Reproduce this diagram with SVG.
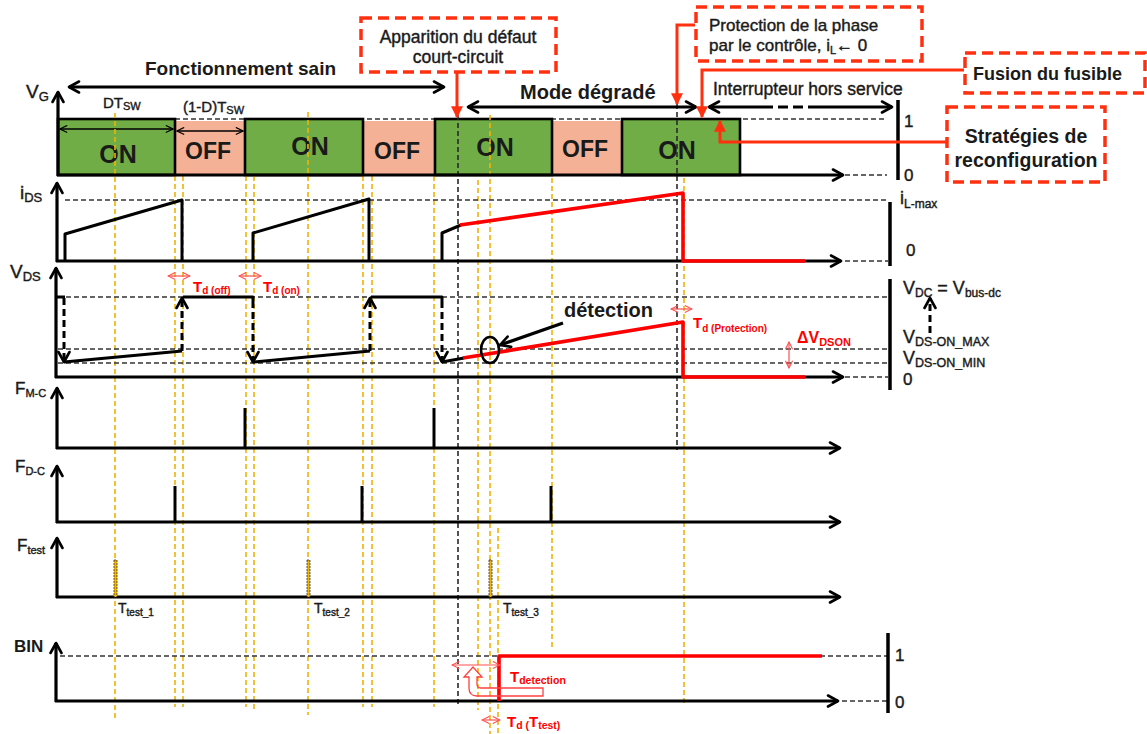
<svg xmlns="http://www.w3.org/2000/svg" width="1147" height="734" viewBox="0 0 1147 734">
<defs>
<style>
text{font-family:"Liberation Sans",Arial,sans-serif;fill:#1a1a1a}
.b{font-weight:bold}
.md{stroke:#1a1a1a;stroke-width:0.4}
.ax{stroke:#000;stroke-width:3.2;fill:none;marker-end:url(#ah)}
.wf{stroke:#000;stroke-width:3;fill:none;stroke-linejoin:round}
.dw{stroke:#000;stroke-width:3;fill:none;stroke-dasharray:7 4;marker-end:url(#ah)}
.rd{stroke:#FF0000;stroke-width:3.6;fill:none;stroke-linejoin:round}
.yl{stroke:#F2B200;stroke-width:1.6;stroke-dasharray:5 3;fill:none}
.bd{stroke:#2a2a2a;stroke-width:1.6;stroke-dasharray:5 3;fill:none}
.gd{stroke:#333;stroke-width:1.3;stroke-dasharray:5 3;fill:none}
.bar{stroke:#000;stroke-width:3.5}
.on{fill:#70AD47;stroke:#000;stroke-width:2.6}
.off{fill:#F4B196}
.cb{fill:#fff;stroke:#FF3010;stroke-width:3.5;stroke-dasharray:11 6}
.cl{stroke:#FF3010;stroke-width:3;fill:none;marker-end:url(#ahf)}
.tr{stroke:#FF5050;stroke-width:1.2;fill:none;marker-start:url(#ahr);marker-end:url(#ahr)}
.tk{stroke:#000;stroke-width:1.3;fill:none;marker-start:url(#aht);marker-end:url(#aht)}
.dbl{stroke:#000;stroke-width:3;fill:none;marker-start:url(#ah);marker-end:url(#ah)}
.rt{fill:#FF0000}
.spk{stroke:#000;stroke-width:3}
.tb{fill:#F2B200;stroke:#333;stroke-width:0.8;stroke-dasharray:2 1}
</style>
<marker id="ah" viewBox="0 0 14 14" refX="12" refY="7" markerWidth="14" markerHeight="14" markerUnits="userSpaceOnUse" orient="auto-start-reverse"><path d="M2,1.5 L12,7 L2,12.5" fill="none" stroke="#000" stroke-width="2.6" stroke-linecap="round" stroke-linejoin="round"/></marker>
<marker id="aht" viewBox="0 0 10 10" refX="9" refY="5" markerWidth="9" markerHeight="9" markerUnits="userSpaceOnUse" orient="auto-start-reverse"><path d="M1,1 L9,5 L1,9" fill="none" stroke="#000" stroke-width="1.3"/></marker>
<marker id="ahr" viewBox="0 0 10 10" refX="9" refY="5" markerWidth="9" markerHeight="9" markerUnits="userSpaceOnUse" orient="auto-start-reverse"><path d="M1,1 L9,5 L1,9" fill="none" stroke="#FF5050" stroke-width="1.2"/></marker>
<marker id="ahf" viewBox="0 0 10 10" refX="9" refY="5" markerWidth="12" markerHeight="12" markerUnits="userSpaceOnUse" orient="auto"><path d="M0,0 L10,5 L0,10 Z" fill="#FF3010"/></marker>
</defs>
<rect width="1147" height="734" fill="#fff"/>

<g id="vg-row">
<line class="gd" x1="175" y1="119" x2="887" y2="119"/>
<rect class="off" x="175" y="121" width="70" height="54"/>
<rect class="off" x="363" y="121" width="72" height="54"/>
<rect class="off" x="552" y="121" width="70" height="54"/>
<rect class="on" x="58" y="119" width="117" height="56"/>
<rect class="on" x="245" y="119" width="118" height="56"/>
<rect class="on" x="435" y="119" width="117" height="56"/>
<rect class="on" x="622" y="119" width="118" height="56"/>
<text class="b" x="118" y="163" font-size="25" text-anchor="middle">ON</text>
<text class="b" x="310" y="155" font-size="25" text-anchor="middle">ON</text>
<text class="b" x="495" y="156" font-size="25" text-anchor="middle">ON</text>
<text class="b" x="677" y="159" font-size="25" text-anchor="middle">ON</text>
<text class="b" x="208" y="159" font-size="23" text-anchor="middle">OFF</text>
<text class="b" x="397" y="159" font-size="23" text-anchor="middle">OFF</text>
<text class="b" x="585" y="157" font-size="23" text-anchor="middle">OFF</text>
<line class="tk" x1="60" y1="129" x2="173" y2="129"/>
<line class="tk" x1="177" y1="131" x2="243" y2="131"/>
<text class="md" x="103" y="108" font-size="15">DT<tspan font-size="11" dy="2">SW</tspan></text>
<text class="md" x="183" y="112" font-size="15">(1-D)T<tspan font-size="11" dy="2">SW</tspan></text>
<text class="md" x="26" y="98" font-size="19">V<tspan font-size="13" dy="3">G</tspan></text>
</g>

<g id="guides">
<line class="yl" x1="115" y1="113" x2="115" y2="718"/>
<line class="yl" x1="175" y1="176" x2="175" y2="707"/>
<line class="yl" x1="183" y1="176" x2="183" y2="707"/>
<line class="yl" x1="246" y1="176" x2="246" y2="707"/>
<line class="yl" x1="254" y1="176" x2="254" y2="710"/>
<line class="yl" x1="308" y1="112" x2="308" y2="715"/>
<line class="yl" x1="363" y1="176" x2="363" y2="707"/>
<line class="yl" x1="372" y1="176" x2="372" y2="707"/>
<line class="yl" x1="434" y1="176" x2="434" y2="707"/>
<line class="yl" x1="478" y1="180" x2="478" y2="710"/>
<line class="yl" x1="490" y1="115" x2="490" y2="734"/>
<line class="yl" x1="498" y1="528" x2="498" y2="734"/>
<line class="yl" x1="552" y1="178" x2="552" y2="650"/>
<line class="yl" x1="684" y1="178" x2="684" y2="703"/>
<line class="bd" x1="458" y1="115" x2="458" y2="706"/>
<line class="bd" x1="677" y1="104" x2="677" y2="450"/>
<line class="gd" x1="845" y1="175" x2="887" y2="175"/>
<line class="gd" x1="65" y1="200" x2="888" y2="200"/>
<line class="gd" x1="845" y1="261" x2="888" y2="261"/>
<line class="gd" x1="58" y1="297" x2="888" y2="297"/>
<line class="gd" x1="58" y1="349" x2="888" y2="349"/>
<line class="gd" x1="58" y1="363" x2="888" y2="363"/>
<line class="gd" x1="845" y1="377" x2="888" y2="377"/>
<line class="gd" x1="60" y1="656" x2="887" y2="656"/>
<line class="gd" x1="842" y1="701" x2="887" y2="701"/>
</g>

<g id="vg-axes">
<line class="ax" x1="58" y1="176" x2="58" y2="92"/>
<line class="ax" x1="57" y1="175" x2="843" y2="175"/>
<line class="bar" x1="898" y1="100" x2="898" y2="180"/>
<text class="md" x="904" y="127" font-size="17">1</text>
<text class="md" x="904" y="181" font-size="17">0</text>
</g>

<g id="ids-row">
<line class="ax" x1="57" y1="262" x2="57" y2="183"/>
<line class="ax" x1="56" y1="261" x2="841" y2="261"/>
<path class="wf" d="M65,261 V234 L182,200 V261"/>
<path class="wf" d="M253,261 V233 L369,199 V261"/>
<path class="wf" d="M442,261 V233 L461,225"/>
<path class="rd" d="M460,225 L683,193 V261 H805"/>
<line class="bar" x1="890" y1="202" x2="890" y2="266"/>
<text class="md" x="20" y="199" font-size="19">i<tspan font-size="13" dy="3">DS</tspan></text>
<text class="md" x="900" y="204" font-size="18">i<tspan font-size="12" dy="4">L-max</tspan></text>
<text class="md" x="906" y="256" font-size="17">0</text>
</g>

<g id="vds-row">
<line class="ax" x1="56" y1="378" x2="56" y2="268"/>
<line class="ax" x1="55" y1="377" x2="843" y2="377"/>
<path class="wf" d="M56,297 H65"/>
<line class="dw" x1="64" y1="298" x2="64" y2="362"/>
<path class="wf" d="M64,362 L182,351"/>
<line class="dw" x1="182" y1="351" x2="182" y2="298"/>
<path class="wf" d="M183,297 H253 V301"/>
<line class="dw" x1="253" y1="301" x2="253" y2="362"/>
<path class="wf" d="M253,362 L370,351"/>
<line class="dw" x1="370" y1="351" x2="370" y2="298"/>
<path class="wf" d="M371,297 H442 V301"/>
<line class="dw" x1="442" y1="301" x2="442" y2="362"/>
<path class="wf" d="M442,362 L464,358"/>
<path class="rd" d="M463,358 L683,322 V377 H805"/>
<ellipse cx="490" cy="350" rx="9" ry="13" fill="none" stroke="#000" stroke-width="2.6"/>
<line class="ax" x1="563" y1="323" x2="500" y2="345"/>
<text class="b" x="564" y="317" font-size="20">détection</text>
<line class="tr" x1="168" y1="276" x2="190" y2="276"/>
<line class="tr" x1="239" y1="276" x2="261" y2="276"/>
<text class="b rt" x="193" y="292" font-size="15">T<tspan font-size="10" dy="2">d (off)</tspan></text>
<text class="b rt" x="263" y="292" font-size="15">T<tspan font-size="10" dy="2">d (on)</tspan></text>
<line class="tr" x1="671" y1="309" x2="692" y2="309"/>
<text class="b rt" x="693" y="328" font-size="15">T<tspan font-size="10" dy="4">d (Protection)</tspan></text>
<line class="tr" x1="789" y1="342" x2="789" y2="368"/>
<text class="b rt" x="797" y="343" font-size="16">ΔV<tspan font-size="11" dy="3">DSON</tspan></text>
<line class="bar" x1="890" y1="279" x2="890" y2="390"/>
<line class="dw" x1="930" y1="333" x2="930" y2="298"/>
<text class="md" x="10" y="278" font-size="19">V<tspan font-size="13" dy="3">DS</tspan></text>
<text class="md" x="903" y="294" font-size="18">V<tspan font-size="12" dy="3">DC</tspan><tspan dy="-3"> = V</tspan><tspan font-size="12" dy="3">bus-dc</tspan></text>
<text class="md" x="903" y="343" font-size="18">V<tspan font-size="12.5" dy="3">DS-ON_MAX</tspan></text>
<text class="md" x="903" y="364" font-size="18">V<tspan font-size="12.5" dy="3">DS-ON_MIN</tspan></text>
<text class="md" x="903" y="385" font-size="17">0</text>
</g>

<g id="fmc-row">
<line class="ax" x1="57" y1="449" x2="57" y2="388"/>
<line class="ax" x1="56" y1="448" x2="840" y2="448"/>
<line class="spk" x1="245" y1="448" x2="245" y2="408"/>
<line class="spk" x1="434" y1="448" x2="434" y2="408"/>
<text class="md" x="15" y="394" font-size="17">F<tspan font-size="11" dy="3">M-C</tspan></text>
</g>

<g id="fdc-row">
<line class="ax" x1="57" y1="523" x2="57" y2="466"/>
<line class="ax" x1="56" y1="522" x2="840" y2="522"/>
<line class="spk" x1="175" y1="522" x2="175" y2="486"/>
<line class="spk" x1="362" y1="522" x2="362" y2="486"/>
<line class="spk" x1="551" y1="522" x2="551" y2="486"/>
<text class="md" x="15" y="472" font-size="17">F<tspan font-size="11" dy="3">D-C</tspan></text>
</g>

<g id="ftest-row">
<line class="ax" x1="57" y1="598" x2="57" y2="538"/>
<line class="ax" x1="56" y1="597" x2="840" y2="597"/>
<rect class="tb" x="114" y="560" width="3" height="37"/>
<rect class="tb" x="307" y="560" width="3" height="37"/>
<rect class="tb" x="489" y="560" width="3" height="37"/>
<text class="md" x="17" y="551" font-size="17">F<tspan font-size="11" dy="3">test</tspan></text>
<text class="md" x="118" y="613" font-size="14">T<tspan font-size="10" dy="3">test_1</tspan></text>
<text class="md" x="314" y="613" font-size="14">T<tspan font-size="10" dy="3">test_2</tspan></text>
<text class="md" x="503" y="613" font-size="14">T<tspan font-size="10" dy="3">test_3</tspan></text>
</g>

<g id="bin-row">
<line class="ax" x1="56" y1="702" x2="56" y2="643"/>
<line class="ax" x1="55" y1="701" x2="838" y2="701"/>
<path class="rd" d="M499,701 V656 H822" stroke-width="4"/>
<line class="tr" x1="452" y1="665" x2="500" y2="665"/>
<path d="M477,677 V684 Q477,688 481,688 H543 V696 H477 Q469,696 469,688 V677 H464 L473,667 L482,677 Z" fill="none" stroke="#FF4040" stroke-width="1.3"/>
<text class="b rt" x="510" y="682" font-size="15">T<tspan font-size="10.5" dy="2">detection</tspan></text>
<line class="tr" x1="482" y1="720" x2="500" y2="720"/>
<text class="b rt" x="507" y="727" font-size="15">T<tspan font-size="10.5" dy="2">d (</tspan><tspan dy="-2">T</tspan><tspan font-size="10.5" dy="2">test)</tspan></text>
<line class="bar" x1="888" y1="633" x2="888" y2="713"/>
<text class="b" x="14" y="652" font-size="17">BIN</text>
<text class="md" x="895" y="661" font-size="17">1</text>
<text class="md" x="895" y="708" font-size="17">0</text>
</g>

<g id="phase-labels">
<line class="dbl" x1="69" y1="87" x2="444" y2="87"/>
<text class="b" x="145" y="75" font-size="19">Fonctionnement sain</text>
<line class="dbl" x1="468" y1="107" x2="696" y2="107"/>
<text class="b" x="520" y="99" font-size="20">Mode dégradé</text>
<path d="M709,107 H763" class="wf" style="marker-start:url(#ah)"/>
<path d="M763,107 H812" class="wf" stroke-dasharray="10 5"/>
<path d="M812,107 H892" class="wf" style="marker-end:url(#ah)"/>
<text class="md" x="713" y="95" font-size="17.5">Interrupteur hors service</text>
</g>

<g id="callout-apparition">
<rect class="cb" x="361" y="18" width="195" height="54"/>
<text class="md" x="458" y="43" font-size="17.5" text-anchor="middle">Apparition du défaut</text>
<text class="md" x="458" y="63" font-size="17.5" text-anchor="middle">court-circuit</text>
</g>
<g id="callout-protection">
<rect class="cb" x="696" y="7" width="226" height="54"/>
<text class="md" x="709" y="31" font-size="17">Protection de la phase</text>
<text class="md" x="709" y="51" font-size="17">par le contrôle, i<tspan font-size="11" dy="3">L</tspan><tspan dy="-3">← 0</tspan></text>
</g>
<g id="callout-fusion">
<rect class="cb" x="965" y="53" width="180" height="40"/>
<text class="b" x="973" y="80" font-size="18">Fusion du fusible</text>
</g>
<g id="callout-strategies">
<rect class="cb" x="947" y="107" width="158" height="75"/>
<text class="b" x="1026" y="143" font-size="19.5" text-anchor="middle">Stratégies de</text>
<text class="b" x="1026" y="167" font-size="19.5" text-anchor="middle">reconfiguration</text>
</g>

<g id="connectors">
<path class="cl" d="M457,73 V117"/>
<path class="cl" d="M695,25 H677 V104"/>
<path class="cl" d="M964,70 H702 V117"/>
<path class="cl" d="M946,142 H720 V121"/>
</g>
</svg>
